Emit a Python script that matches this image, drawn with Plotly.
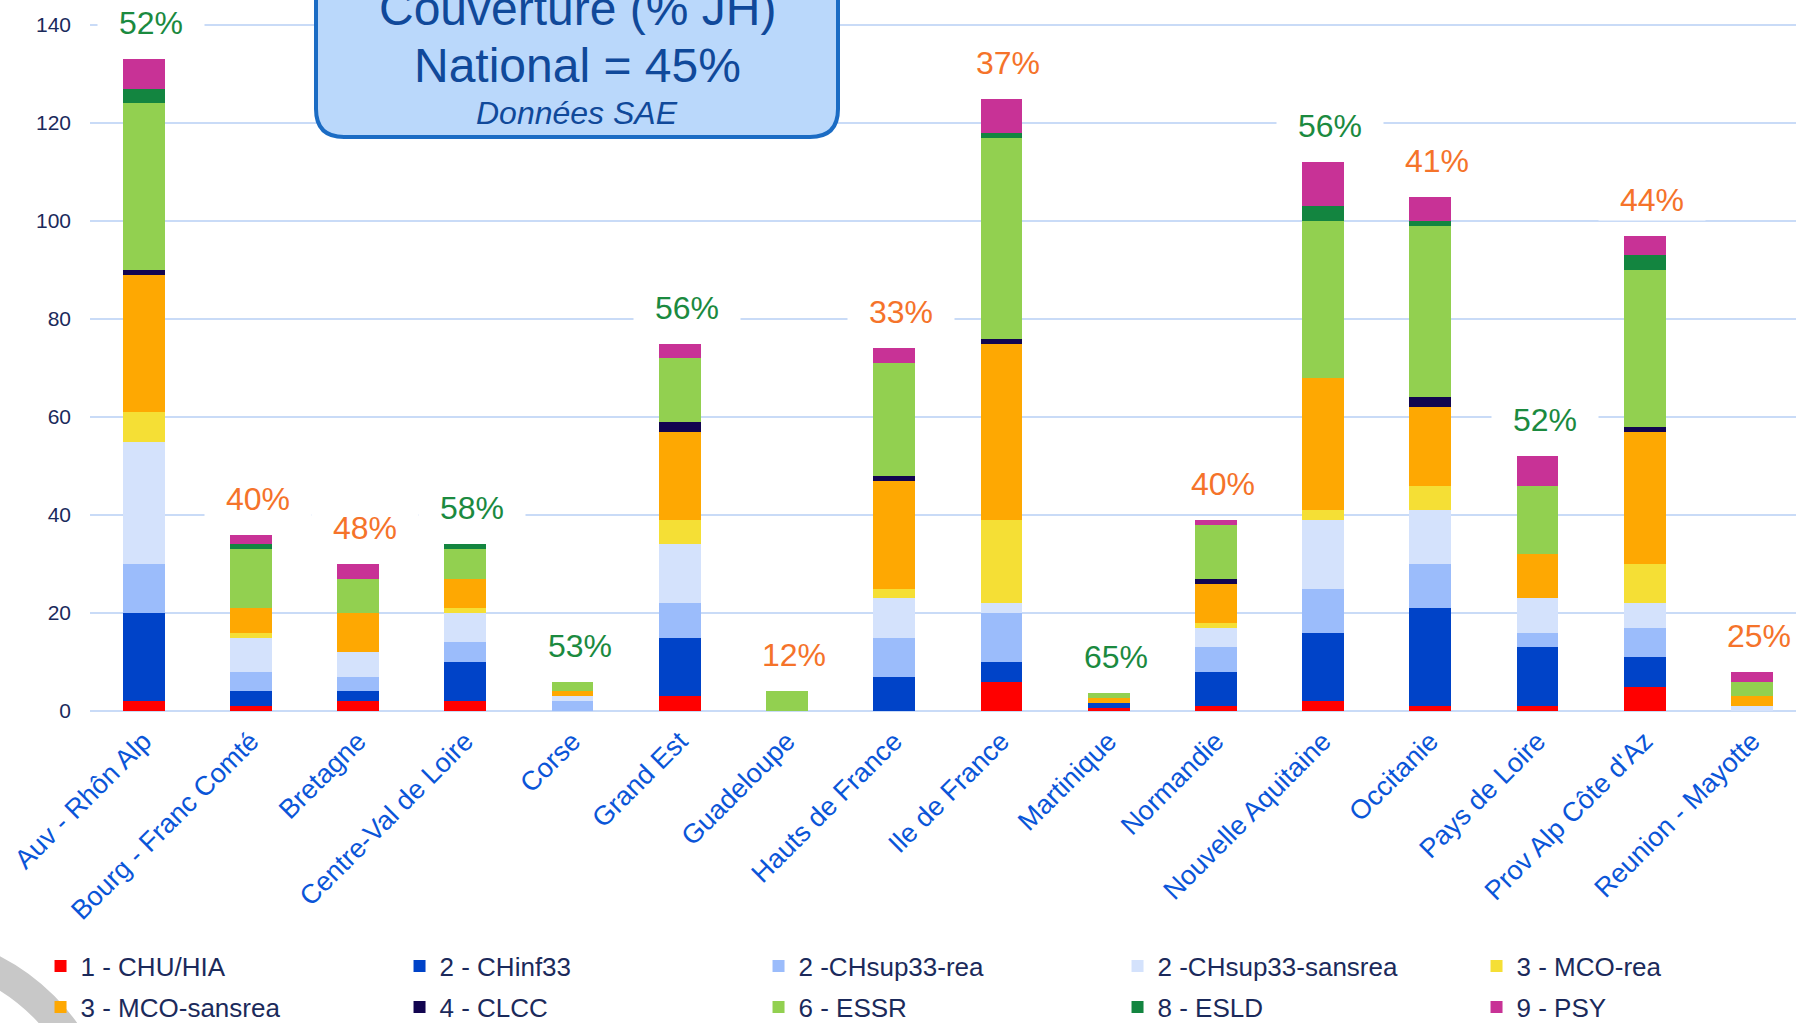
import plotly.graph_objects as go

# Regions (x categories)
categories = [
    "Auv - Rhôn Alp", "Bourg - Franc Comté", "Bretagne", "Centre-Val de Loire",
    "Corse", "Grand Est", "Guadeloupe", "Hauts de France", "Ile de France",
    "Martinique", "Normandie", "Nouvelle Aquitaine", "Occitanie",
    "Pays de Loire", "Prov Alp Côte d'Az", "Reunion - Mayotte",
]

# Stacked series
chu_hia = [2, 1, 2, 2, 0, 3, 0, 0, 6, 0.7, 1, 2, 1, 1, 5, 0]
chinf33 = [18, 3, 2, 8, 0, 12, 0, 7, 4, 1, 7, 14, 20, 12, 6, 0]
chsup33_rea = [10, 4, 3, 4, 2, 7, 0, 8, 10, 0, 5, 9, 9, 3, 6, 0]
chsup33_sansrea = [25, 7, 5, 6, 1, 12, 0, 8, 2, 0, 4, 14, 11, 7, 5, 1]
mco_rea = [6, 1, 0, 1, 0, 5, 0, 2, 17, 0, 1, 2, 5, 0, 8, 0]
mco_sansrea = [28, 5, 8, 6, 1, 18, 0, 22, 36, 1, 8, 27, 16, 9, 27, 2]
clcc = [1, 0, 0, 0, 0, 2, 0, 1, 1, 0, 1, 0, 2, 0, 1, 0]
essr = [34, 12, 7, 6, 2, 13, 4, 23, 41, 1, 11, 32, 35, 14, 32, 3]
esld = [3, 1, 0, 1, 0, 0, 0, 0, 1, 0, 0, 3, 1, 0, 3, 0]
psy = [6, 2, 3, 0, 0, 3, 0, 3, 7, 0, 1, 9, 5, 6, 4, 2]

# Coverage (% JH) per region
coverage = [52, 40, 48, 58, 53, 56, 12, 33, 37, 65, 40, 56, 41, 52, 44, 25]
national = 45

series = [
    ("1 - CHU/HIA", chu_hia, "#ff0000"),
    ("2 - CHinf33", chinf33, "#0043c8"),
    ("2 -CHsup33-rea", chsup33_rea, "#9bbcfb"),
    ("2 -CHsup33-sansrea", chsup33_sansrea, "#d4e2fc"),
    ("3 - MCO-rea", mco_rea, "#f5df35"),
    ("3 - MCO-sansrea", mco_sansrea, "#fea802"),
    ("4 - CLCC", clcc, "#120550"),
    ("6 - ESSR", essr, "#92d050"),
    ("8 - ESLD", esld, "#138540"),
    ("9 - PSY", psy, "#c83296"),
]

FONT = "Liberation Sans, Arial, sans-serif"
NAVY = "#1b2a5b"
GRID = "#c9dbf7"
TITLE_BLUE = "#10499a"

# plot area in pixels
W, H = 1796, 1023
L, B = 90, 312
PW, PH = W - L, H - B


def px(x):
    return (x - L) / PW


def py(y):
    return (PH - y) / PH


fig = go.Figure()

for i, (name, vals, color) in enumerate(series):
    fig.add_trace(
        go.Bar(
            x=categories,
            y=vals,
            name=name,
            marker=dict(color=color, line=dict(width=0)),
            legend="legend" if i < 5 else "legend2",
        )
    )

totals = [sum(v[i] for _, v, _ in series) for i in range(len(categories))]

annotations = []
for cat, tot, pct in zip(categories, totals, coverage):
    annotations.append(dict(
        x=cat, y=tot, xref="x", yref="y",
        text=f"{pct}%", showarrow=False, yshift=36, xshift=7,
        font=dict(size=32, color="#1b8a3f" if pct >= 50 else "#f5732a", family=FONT),
        bgcolor="white", width=104, height=38,
    ))

# title box text
for text, ypix, size in [
    ("Couverture (% JH)", 9, 48),
    (f"National = {national}%", 65, 48),
    ("<i>Données SAE</i>", 113, 32),
]:
    annotations.append(dict(
        x=px(577), y=py(ypix), xref="paper", yref="paper", showarrow=False,
        xanchor="center", yanchor="middle", text=text,
        font=dict(size=size, color=TITLE_BLUE, family=FONT),
    ))

# rounded box (top edge runs off the picture)
x0, x1, yt, yb, r = 316, 838, -40, 137, 28
rx, ry = r / PW, r / PH
box = (
    f"M {px(x0)},{py(yt)} L {px(x0)},{py(yb) + ry} "
    f"Q {px(x0)},{py(yb)} {px(x0) + rx},{py(yb)} "
    f"L {px(x1) - rx},{py(yb)} Q {px(x1)},{py(yb)} {px(x1)},{py(yb) + ry} "
    f"L {px(x1)},{py(yt)} Z"
)

shapes = [
    dict(type="path", path=box, xref="paper", yref="paper",
         fillcolor="#bad8fb", line=dict(color="#1b6cc4", width=4), layer="above"),
    # decorative grey arc, bottom-left corner
    dict(type="circle", xref="paper", yref="paper",
         x0=px(-303), x1=px(103), y0=py(1353), y1=py(947),
         line=dict(color="#c8c8c8", width=30)),
]

legend_common = dict(
    orientation="h", xanchor="left", yanchor="middle",
    traceorder="normal", font=dict(size=26, color=NAVY, family=FONT),
    entrywidth=314, entrywidthmode="pixels", bgcolor="rgba(0,0,0,0)",
)

fig.update_layout(
    width=W,
    height=H,
    margin=dict(l=L, r=0, t=0, b=B, autoexpand=False),
    barmode="stack",
    bargap=0.61,
    plot_bgcolor="white",
    paper_bgcolor="white",
    font=dict(family=FONT, color=NAVY),
    showlegend=True,
    legend=dict(x=-0.029, y=py(966), **legend_common),
    legend2=dict(x=-0.029, y=py(1007), **legend_common),
    annotations=annotations,
    shapes=shapes,
)

fig.update_xaxes(
    range=[-0.5, 15.41],
    tickangle=-45,
    tickfont=dict(size=27, color="#0a55d8", family=FONT),
    showgrid=False,
    ticklabelstandoff=8,
)
fig.update_yaxes(
    range=[0, PH / 4.9],
    tickvals=[0, 20, 40, 60, 80, 100, 120, 140],
    tickfont=dict(size=21, color=NAVY, family=FONT),
    showgrid=True,
    gridcolor=GRID,
    gridwidth=2,
    zeroline=True,
    zerolinecolor=GRID,
    zerolinewidth=2,
    ticklabelstandoff=18,
)

# drop the page's default body margin so the figure sits at the window's corner
fig.write_html(
    "out.html",
    config={"displayModeBar": False},
    post_script="document.body.style.margin='0px';",
)
